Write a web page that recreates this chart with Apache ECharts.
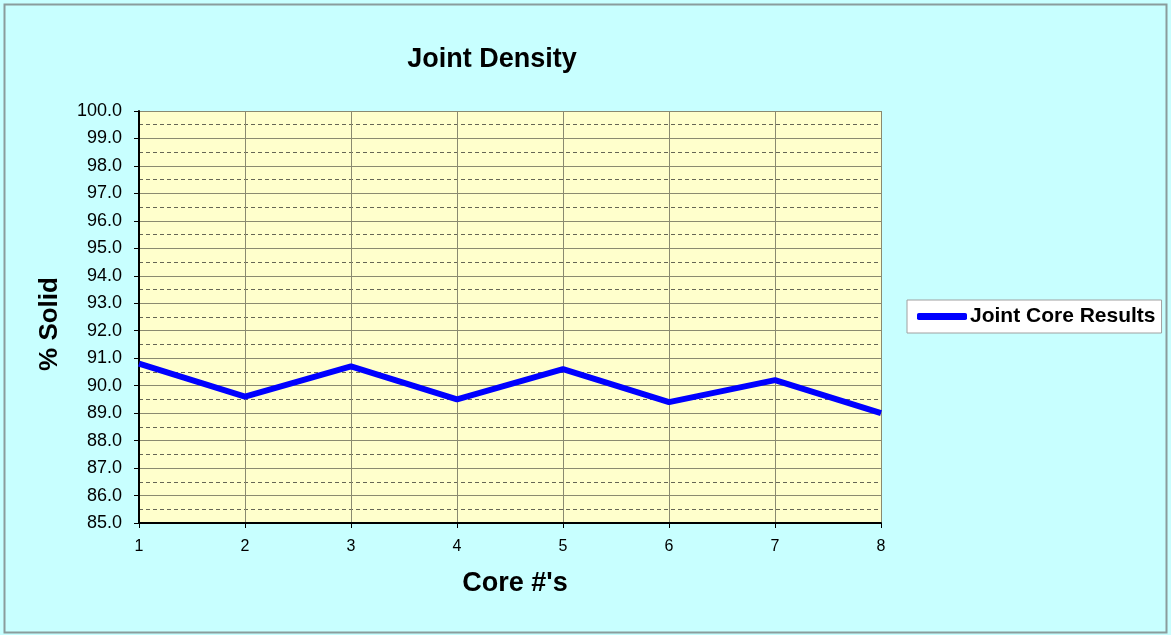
<!DOCTYPE html>
<html>
<head>
<meta charset="utf-8">
<script src="https://cdn.jsdelivr.net/npm/echarts@6/dist/echarts.min.js"></script>
<style>
  html, body { margin: 0; padding: 0; background: #ffffff; }
  #chart { width: 1171px; height: 635px; }
</style>
</head>
<body>
<div id="chart"></div>
<script>
// Core numbers along the x axis
const cores = ['1', '2', '3', '4', '5', '6', '7', '8'];
// Percent solid measured at each joint core
const jointCoreResults = [90.8, 89.6, 90.7, 89.5, 90.6, 89.4, 90.2, 89.0];
const seriesName = 'Joint Core Results';

const chart = echarts.init(document.getElementById('chart'), null, { renderer: 'canvas' });

const font = 'Liberation Sans, Arial, sans-serif';

chart.setOption({
  backgroundColor: '#c8ffff',
  animation: false,
  graphic: [
    {
      type: 'rect',
      shape: { x: 4.5, y: 4.5, width: 1162, height: 628 },
      style: { fill: 'none', stroke: '#8a9c9c', lineWidth: 2 },
      silent: true
    }
  ],
  title: {
    text: 'Joint Density',
    left: 487,
    top: 41,
    textAlign: 'center',
    textStyle: { fontFamily: font, fontSize: 27, fontWeight: 'bold', color: '#000' }
  },
  legend: {
    data: [seriesName],
    left: 907,
    top: 300,
    orient: 'vertical',
    backgroundColor: '#ffffff',
    borderColor: '#a0a0a0',
    borderWidth: 1,
    borderRadius: 0,
    padding: [6, 6, 6, 10],
    itemWidth: 50,
    itemHeight: 7,
    itemGap: 0,
    icon: 'roundRect',
    textStyle: { fontFamily: font, fontSize: 21, fontWeight: 'bold', color: '#000', padding: [0, 0, 0, -2] }
  },
  grid: {
    left: 139,
    top: 111,
    width: 742,
    height: 412,
    show: true,
    backgroundColor: '#ffffcc',
    borderWidth: 0
  },
  xAxis: {
    type: 'category',
    data: cores,
    boundaryGap: false,
    name: "Core #'s",
    nameLocation: 'middle',
    nameGap: 47,
    nameTextStyle: { fontFamily: font, fontSize: 27, fontWeight: 'bold', color: '#000', padding: [0, 0, 0, 10] },
    axisLine: { show: true, lineStyle: { color: '#000', width: 2 } },
    axisTick: { show: true, length: 5, lineStyle: { color: '#000' } },
    axisLabel: { fontFamily: font, fontSize: 16, color: '#000', margin: 16 },
    splitLine: { show: true, lineStyle: { color: '#8a8a70', width: 1 } }
  },
  yAxis: {
    type: 'value',
    min: 85,
    max: 100,
    interval: 1,
    name: '% Solid',
    nameLocation: 'middle',
    nameGap: 76,
    nameRotate: 90,
    nameTextStyle: { fontFamily: font, fontSize: 26, fontWeight: 'bold', color: '#000', padding: [0, 14, 0, 0] },
    axisLine: { show: true, lineStyle: { color: '#000', width: 2 } },
    axisTick: { show: true, length: 5, inside: false, lineStyle: { color: '#000' } },
    axisLabel: {
      fontFamily: font, fontSize: 18, color: '#000', margin: 17,
      formatter: v => v.toFixed(1)
    },
    splitLine: { show: true, lineStyle: { color: '#8a8a70', width: 1 } },
    minorTick: { show: false, splitNumber: 2 },
    minorSplitLine: { show: true, lineStyle: { color: '#666655', width: 1, type: [4, 3] } }
  },
  series: [
    {
      name: seriesName,
      type: 'line',
      data: jointCoreResults,
      symbol: 'none',
      lineStyle: { color: '#0000ff', width: 6 },
      itemStyle: { color: '#0000ff' }
    }
  ]
});
</script>
</body>
</html>
